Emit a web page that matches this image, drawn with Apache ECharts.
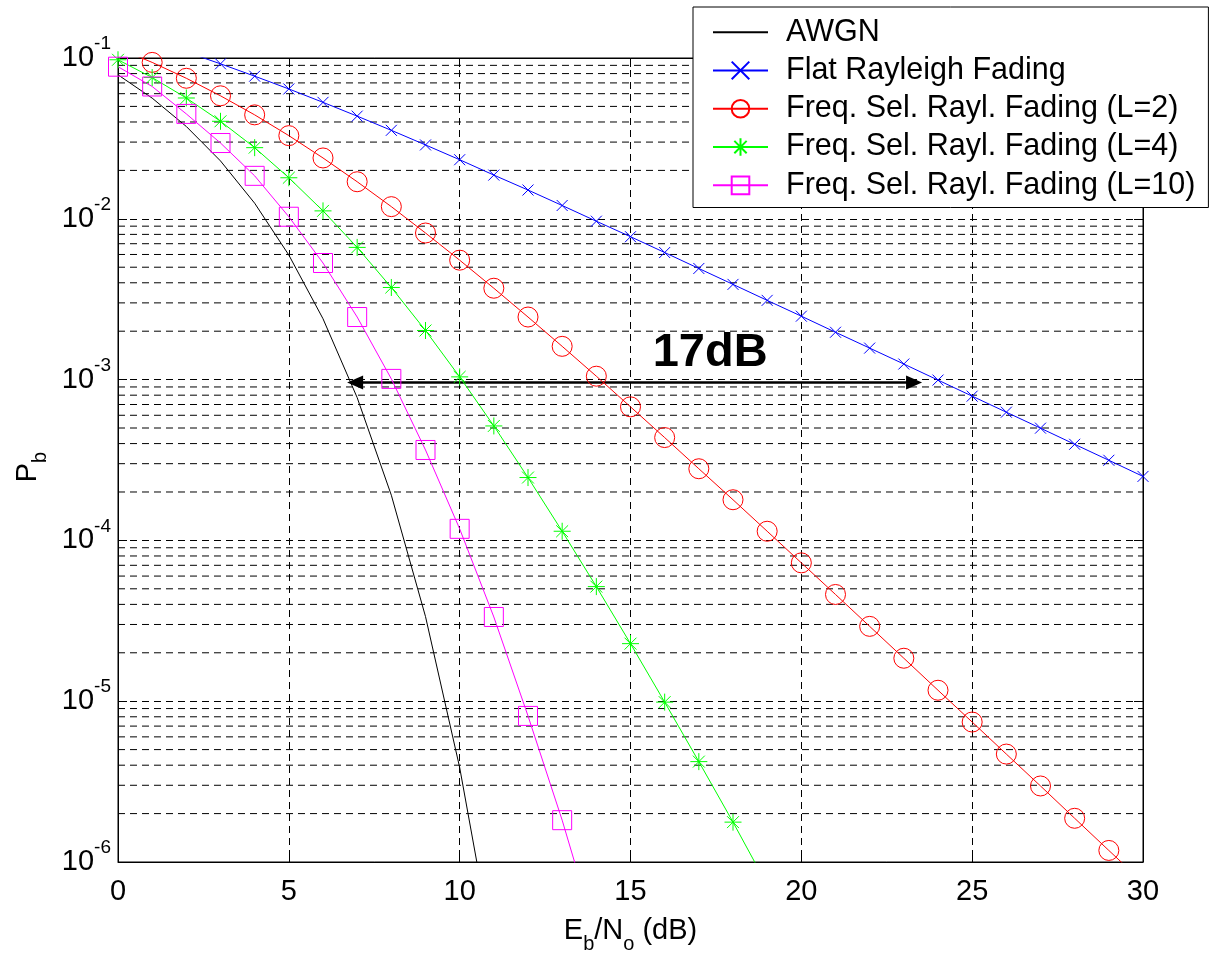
<!DOCTYPE html>
<html>
<head>
<meta charset="utf-8">
<script src="https://cdn.jsdelivr.net/npm/echarts@6/dist/echarts.min.js"></script>
<style>
html,body{margin:0;padding:0;background:#fff;}
#chart{width:1211px;height:956px;}
</style>
</head>
<body>
<div id="chart"></div>
<script>
// Eb/No in dB is the index of each value below
const awgn = [0.0786, 0.0563, 0.0375, 0.0229, 0.0125, 0.00595, 0.00239, 7.73e-4, 1.91e-4, 3.36e-5, 3.87e-6, 2.61e-7];
const flatRayleigh = [0.146, 0.127, 0.109, 0.092, 0.0771, 0.0642, 0.0530, 0.0435, 0.0355, 0.0288, 0.0233, 0.0187, 0.0151, 0.0121, 0.00966, 0.00774, 0.00617, 0.00491, 0.00391, 0.00311, 0.00248, 0.00197, 0.00157, 0.00125, 9.93e-4, 7.89e-4, 6.27e-4, 4.99e-4, 3.96e-4, 3.15e-4, 2.50e-4];
const fsL2 = [0.115, 0.0939, 0.0748, 0.0582, 0.0443, 0.0329, 0.0239, 0.0170, 0.0119, 0.00816, 0.00553, 0.00370, 0.00245, 0.00161, 0.00105, 6.77e-4, 4.36e-4, 2.79e-4, 1.79e-4, 1.14e-4, 7.25e-5, 4.61e-5, 2.92e-5, 1.85e-5, 1.17e-5, 7.42e-6, 4.69e-6, 2.97e-6, 1.87e-6, 1.18e-6, 7.47e-7];
const fsL4 = [0.0975, 0.0756, 0.0564, 0.0404, 0.0277, 0.0180, 0.0112, 0.00664, 0.00374, 0.00202, 0.00104, 5.15e-4, 2.46e-4, 1.14e-4, 5.16e-5, 2.28e-5, 9.87e-6, 4.21e-6, 1.77e-6, 7.2e-7];
const fsL10 = [0.0883, 0.0665, 0.0449, 0.0296, 0.0185, 0.0103, 0.00531, 0.00245, 0.00101, 3.65e-4, 1.18e-4, 3.34e-5, 8.1e-6, 1.82e-6, 3.5e-7];

const seriesNames = ['AWGN', 'Flat Rayleigh Fading', 'Freq. Sel. Rayl. Fading (L=2)', 'Freq. Sel. Rayl. Fading (L=4)', 'Freq. Sel. Rayl. Fading (L=10)'];
const xRange = [0, 30];
const yRange = [1e-6, 1e-1];
const minorMantissas = [2, 3, 4, 5, 6, 7, 8, 9];
const minorDecades = [-6, -5, -4, -3, -2];
// annotation: 17 dB gap arrow at Pb ~ 1e-3
const arrowSpan = [6.94, 23.3];
const arrowLevel = 9.6e-4;
const annotText = '17dB';
const annotPos = [17.33, 1.47e-3];

const FONT = "'Liberation Sans', Arial, Helvetica, sans-serif";

function toPairs(arr) { return arr.map((v, i) => [i, v]); }

// minor log grid lines (2..9 x each decade), drawn as broken polyline across the x range
const minorGridData = [];
minorDecades.forEach(d => minorMantissas.forEach(m => {
  const v = m * Math.pow(10, d);
  minorGridData.push([xRange[0], v], [xRange[1], v], [xRange[1], '-']);
}));

const gridDash = [7, 5];

const chart = echarts.init(document.getElementById('chart'), null, {renderer: 'canvas'});

function lineSeries(name, data, color, symbol, size) {
  const hidden = symbol === 'none';
  return {
    name: name,
    type: 'line',
    data: toPairs(data),
    clip: true,
    z: 5,
    symbol: hidden ? 'circle' : symbol,
    symbolSize: size,
    showSymbol: !hidden,
    lineStyle: {color: color, width: 1},
    itemStyle: {color: 'rgba(0,0,0,0)', borderColor: hidden ? 'rgba(0,0,0,0)' : color, borderWidth: 1},
    emphasis: {disabled: true}
  };
}

const option = {
  animation: false,
  backgroundColor: '#fff',
  textStyle: {fontFamily: FONT},
  grid: {left: 118, top: 58, width: 1025, height: 804, show: true, borderColor: '#000', borderWidth: 1,
         backgroundColor: 'rgba(0,0,0,0)', containLabel: false, outerBoundsMode: 'none'},
  legend: {
    orient: 'vertical',
    left: 693, top: 7,
    padding: [8, 13, 5, 19],
    itemWidth: 55, itemHeight: 22, itemGap: 4,
    backgroundColor: '#fff', borderColor: '#000', borderWidth: 1,
    selectedMode: false,
    z: 10,
    data: seriesNames,
    textStyle: {fontSize: 30.5, fontFamily: FONT, color: '#000', lineHeight: 34.3, padding: [0, 0, 0, 13]}
  },
  xAxis: [{
    type: 'value', min: xRange[0], max: xRange[1], interval: 5, position: 'bottom',
    axisLine: {show: true, onZero: false, lineStyle: {color: '#000', width: 1}},
    axisTick: {show: true, inside: true, length: 9, lineStyle: {color: '#000'}},
    axisLabel: {color: '#000', fontSize: 29, fontFamily: FONT, margin: 15},
    splitLine: {show: true, lineStyle: {color: '#000', width: 1, type: gridDash}},
    name: '{n|E}{sb|b}{n|/N}{sb|o}{n| (dB)}',
    nameLocation: 'middle', nameGap: 46,
    nameTextStyle: {rich: {
      n: {fontSize: 29, fontFamily: FONT, color: '#000'},
      sb: {fontSize: 20, fontFamily: FONT, color: '#000', padding: [26, 0, 0, 0]}
    }}
  }, {
    type: 'value', min: xRange[0], max: xRange[1], interval: 5, position: 'top',
    axisLine: {show: true, onZero: false, lineStyle: {color: '#000', width: 1}},
    axisTick: {show: true, inside: true, length: 9, lineStyle: {color: '#000'}},
    axisLabel: {show: false}, splitLine: {show: false}
  }],
  yAxis: [{
    type: 'log', logBase: 10, min: yRange[0], max: yRange[1], position: 'left',
    axisLine: {show: true, onZero: false, lineStyle: {color: '#000', width: 1}},
    axisTick: {show: true, inside: true, length: 9, lineStyle: {color: '#000'}},
    axisLabel: {
      margin: 7,
      formatter: v => '{b|10}{s|' + Math.round(Math.log10(v)) + '}',
      rich: {
        b: {fontSize: 29, fontFamily: FONT, color: '#000'},
        s: {fontSize: 19, fontFamily: FONT, color: '#000', padding: [0, 0, 28, 0]}
      }
    },
    splitLine: {show: true, lineStyle: {color: '#000', width: 1, type: gridDash}},
    name: '{n|P}{sb|b}',
    nameLocation: 'middle', nameGap: 60, nameRotate: 90,
    nameTextStyle: {rich: {
      n: {fontSize: 29, fontFamily: FONT, color: '#000'},
      sb: {fontSize: 20, fontFamily: FONT, color: '#000', padding: [26, 14, 0, 0]}
    }}
  }, {
    type: 'log', logBase: 10, min: yRange[0], max: yRange[1], position: 'right',
    axisLine: {show: true, onZero: false, lineStyle: {color: '#000', width: 1}},
    axisTick: {show: true, inside: true, length: 9, lineStyle: {color: '#000'}},
    axisLabel: {show: false}, splitLine: {show: false}
  }],
  series: [
    {
      name: 'minorGrid', type: 'line', data: minorGridData, z: 1, silent: true,
      symbol: 'none', showSymbol: false, connectNulls: false, clip: true,
      lineStyle: {color: '#000', width: 1, type: gridDash},
      emphasis: {disabled: true}
    },
    lineSeries(seriesNames[0], awgn, '#000000', 'none', 0),
    lineSeries(seriesNames[1], flatRayleigh, '#0000ff', 'path://M0,0L10,10M10,0L0,10', 11),
    lineSeries(seriesNames[2], fsL2, '#ff0000', 'circle', 20),
    lineSeries(seriesNames[3], fsL4, '#00ff00', 'path://M5,0L5,10M0,5L10,5M1.5,1.5L8.5,8.5M8.5,1.5L1.5,8.5', 17),
    lineSeries(seriesNames[4], fsL10, '#ff00ff', 'rect', 19),
    {
      name: 'annotation', type: 'line', data: [], z: 6, silent: true,
      markLine: {
        silent: true, animation: false,
        symbol: ['triangle', 'triangle'], symbolSize: [14, 16],
        label: {show: false},
        lineStyle: {color: '#000', width: 2.5, type: 'solid'},
        itemStyle: {color: '#000'},
        data: [[{coord: [arrowSpan[0], arrowLevel]}, {coord: [arrowSpan[1], arrowLevel]}]]
      },
      markPoint: {
        silent: true, animation: false,
        symbol: 'rect', symbolSize: 1,
        itemStyle: {color: 'rgba(0,0,0,0)'},
        label: {show: true, position: 'inside', formatter: annotText, fontSize: 47, fontWeight: 'bold', fontFamily: FONT, color: '#000'},
        data: [{coord: annotPos}]
      }
    }
  ]
};

chart.setOption(option);
</script>
</body>
</html>
